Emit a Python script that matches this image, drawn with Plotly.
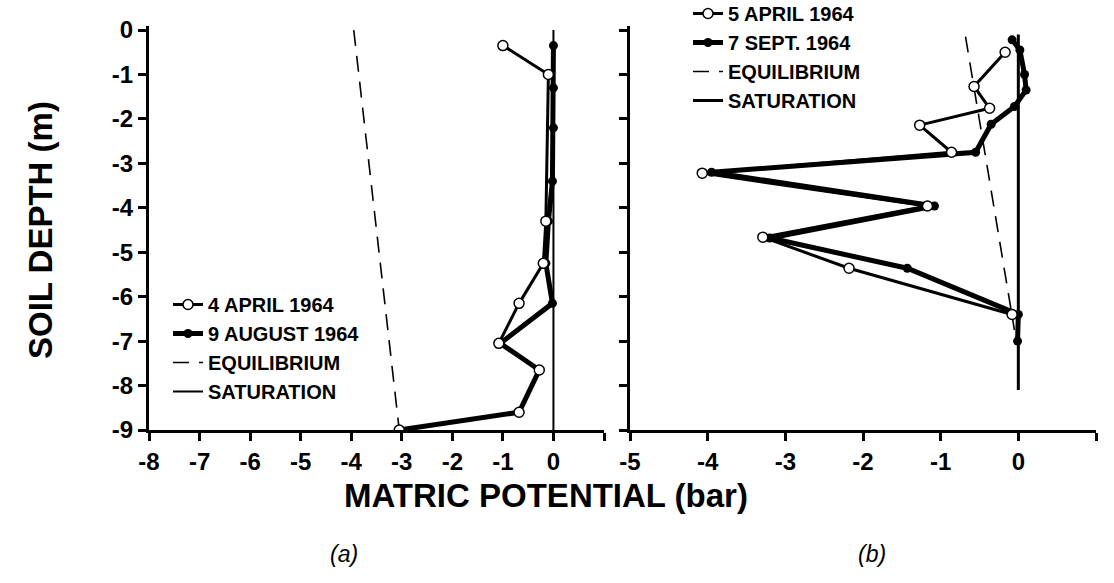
import plotly.graph_objects as go

# ---------------- data ----------------
# panel (a)
a_april_depth = [-0.35, -1.0, -4.3, -5.25, -6.15, -7.05, -7.65, -8.6, -9.0]
a_april_mp = [-1.0, -0.1, -0.15, -0.2, -0.68, -1.08, -0.28, -0.68, -3.05]
a_aug_depth = [-0.35, -1.3, -2.2, -3.4, -4.3, -5.25, -6.15, -7.05, -7.65, -8.6, -9.0]
a_aug_mp = [0.0, 0.0, 0.0, -0.02, -0.1, -0.15, -0.02, -1.05, -0.28, -0.68, -3.05]
a_eq_depth = [0.0, -9.0]
a_eq_mp = [-3.95, -3.05]
a_sat_depth = [0.0, -9.0]
a_sat_mp = [0.0, 0.0]

# panel (b)
b_april_depth = [-0.5, -1.27, -1.76, -2.14, -2.75, -3.22, -3.96, -4.66, -5.36, -6.4]
b_april_mp = [-0.17, -0.57, -0.37, -1.27, -0.86, -4.07, -1.17, -3.29, -2.18, -0.08]
b_sept_depth = [-0.22, -0.45, -1.0, -1.35, -1.72, -2.12, -2.75, -3.2, -3.96, -4.68, -5.36, -6.4, -7.0]
b_sept_mp = [-0.08, 0.02, 0.08, 0.1, -0.05, -0.35, -0.55, -3.95, -1.08, -3.2, -1.43, 0.0, -0.01]
b_eq_depth = [-0.15, -6.75]
b_eq_mp = [-0.68, -0.05]
b_sat_depth = [-0.1, -8.1]
b_sat_mp = [0.0, 0.0]

y_tickvals = [0, -1, -2, -3, -4, -5, -6, -7, -8, -9]
y_ticktext = ["0", "-1", "-2", "-3", "-4", "-5", "-6", "-7", "-8", "-9"]
xa_tickvals = [-8, -7, -6, -5, -4, -3, -2, -1, 0, 1]
xa_ticktext = ["-8", "-7", "-6", "-5", "-4", "-3", "-2", "-1", "0", ""]
xb_tickvals = [-5, -4, -3, -2, -1, 0, 1]
xb_ticktext = ["-5", "-4", "-3", "-2", "-1", "0", ""]

FONT = "Liberation Sans, Arial, Helvetica, sans-serif"
W, H = 1114, 583

fig = go.Figure()

# ---- panel (a) ----
fig.add_trace(go.Scatter(x=a_sat_mp, y=a_sat_depth, mode="lines", name="SATURATION",
                         line=dict(color="black", width=2), xaxis="x", yaxis="y",
                         legend="legend", legendrank=4))
fig.add_trace(go.Scatter(x=a_eq_mp, y=a_eq_depth, mode="lines", name="EQUILIBRIUM",
                         line=dict(color="black", width=1.6, dash="16px,10px"), xaxis="x", yaxis="y",
                         legend="legend", legendrank=3))
fig.add_trace(go.Scatter(x=a_aug_mp, y=a_aug_depth, mode="lines+markers", name="9 AUGUST 1964",
                         line=dict(color="black", width=5),
                         marker=dict(symbol="circle", size=9, color="black"),
                         xaxis="x", yaxis="y", legend="legend", legendrank=2))
fig.add_trace(go.Scatter(x=a_april_mp, y=a_april_depth, mode="lines+markers", name="4 APRIL 1964",
                         line=dict(color="black", width=3),
                         marker=dict(symbol="circle", size=10, color="white",
                                     line=dict(color="black", width=1.5)),
                         xaxis="x", yaxis="y", legend="legend", legendrank=1))

# ---- panel (b) ----
fig.add_trace(go.Scatter(x=b_sat_mp, y=b_sat_depth, mode="lines", name="SATURATION",
                         line=dict(color="black", width=3), xaxis="x2", yaxis="y2",
                         legend="legend2", legendrank=4))
fig.add_trace(go.Scatter(x=b_eq_mp, y=b_eq_depth, mode="lines", name="EQUILIBRIUM",
                         line=dict(color="black", width=1.6, dash="16px,10px"), xaxis="x2", yaxis="y2",
                         legend="legend2", legendrank=3))
fig.add_trace(go.Scatter(x=b_sept_mp, y=b_sept_depth, mode="lines+markers", name="7 SEPT. 1964",
                         line=dict(color="black", width=5),
                         marker=dict(symbol="circle", size=9, color="black"),
                         xaxis="x2", yaxis="y2", legend="legend2", legendrank=2))
fig.add_trace(go.Scatter(x=b_april_mp, y=b_april_depth, mode="lines+markers", name="5 APRIL 1964",
                         line=dict(color="black", width=3),
                         marker=dict(symbol="circle", size=10, color="white",
                                     line=dict(color="black", width=1.5)),
                         xaxis="x2", yaxis="y2", legend="legend2", legendrank=1))

ydom = [(H - 430) / H, (H - 25.6) / H]
axis_common = dict(showline=True, linecolor="black", linewidth=3, ticks="outside",
                   ticklen=8, tickwidth=3, tickcolor="black", showgrid=False, zeroline=False,
                   automargin=False,
                   tickfont=dict(family=FONT, size=24, color="black", weight="bold"))

fig.update_layout(
    width=W, height=H,
    margin=dict(l=0, r=0, t=0, b=0, autoexpand=False),
    paper_bgcolor="white", plot_bgcolor="white",
    font=dict(family=FONT, color="black"),
    xaxis=dict(domain=[149 / W, 604 / W], range=[-8, 1], anchor="y",
               tickmode="array", tickvals=xa_tickvals, ticktext=xa_ticktext, **axis_common),
    yaxis=dict(domain=ydom, range=[-9, 0.1], anchor="x",
               tickmode="array", tickvals=y_tickvals, ticktext=y_ticktext, **axis_common),
    xaxis2=dict(domain=[630 / W, 1096 / W], range=[-5, 1], anchor="y2",
                tickmode="array", tickvals=xb_tickvals, ticktext=xb_ticktext, **axis_common),
    yaxis2=dict(domain=ydom, range=[-9, 0.1], anchor="x2",
                tickmode="array", tickvals=y_tickvals, showticklabels=False, **axis_common),
    legend=dict(x=168 / W, y=(H - 285) / H, xanchor="left", yanchor="top",
                bgcolor="rgba(0,0,0,0)", traceorder="normal",
                font=dict(family=FONT, size=20, color="black", weight="bold")),
    legend2=dict(x=688 / W, y=(H + 6) / H, xanchor="left", yanchor="top",
                 bgcolor="rgba(0,0,0,0)", traceorder="normal",
                 font=dict(family=FONT, size=20, color="black", weight="bold")),
    showlegend=True,
)

annotations = [
    dict(text="SOIL DEPTH (m)", x=40 / W, y=(H - 230) / H, textangle=-90,
         font=dict(family=FONT, size=33, color="black", weight="bold")),
    dict(text="MATRIC POTENTIAL (bar)", x=546 / W, y=(H - 495) / H,
         font=dict(family=FONT, size=33, color="black", weight="bold")),
    dict(text="(a)", x=344 / W, y=(H - 554) / H,
         font=dict(family=FONT, size=23, color="black", style="italic")),
    dict(text="(b)", x=872 / W, y=(H - 554) / H,
         font=dict(family=FONT, size=23, color="black", style="italic")),
]
for a in annotations:
    a.update(xref="paper", yref="paper", showarrow=False, xanchor="center", yanchor="middle")
fig.update_layout(annotations=annotations)

fig.write_html("out.html")
